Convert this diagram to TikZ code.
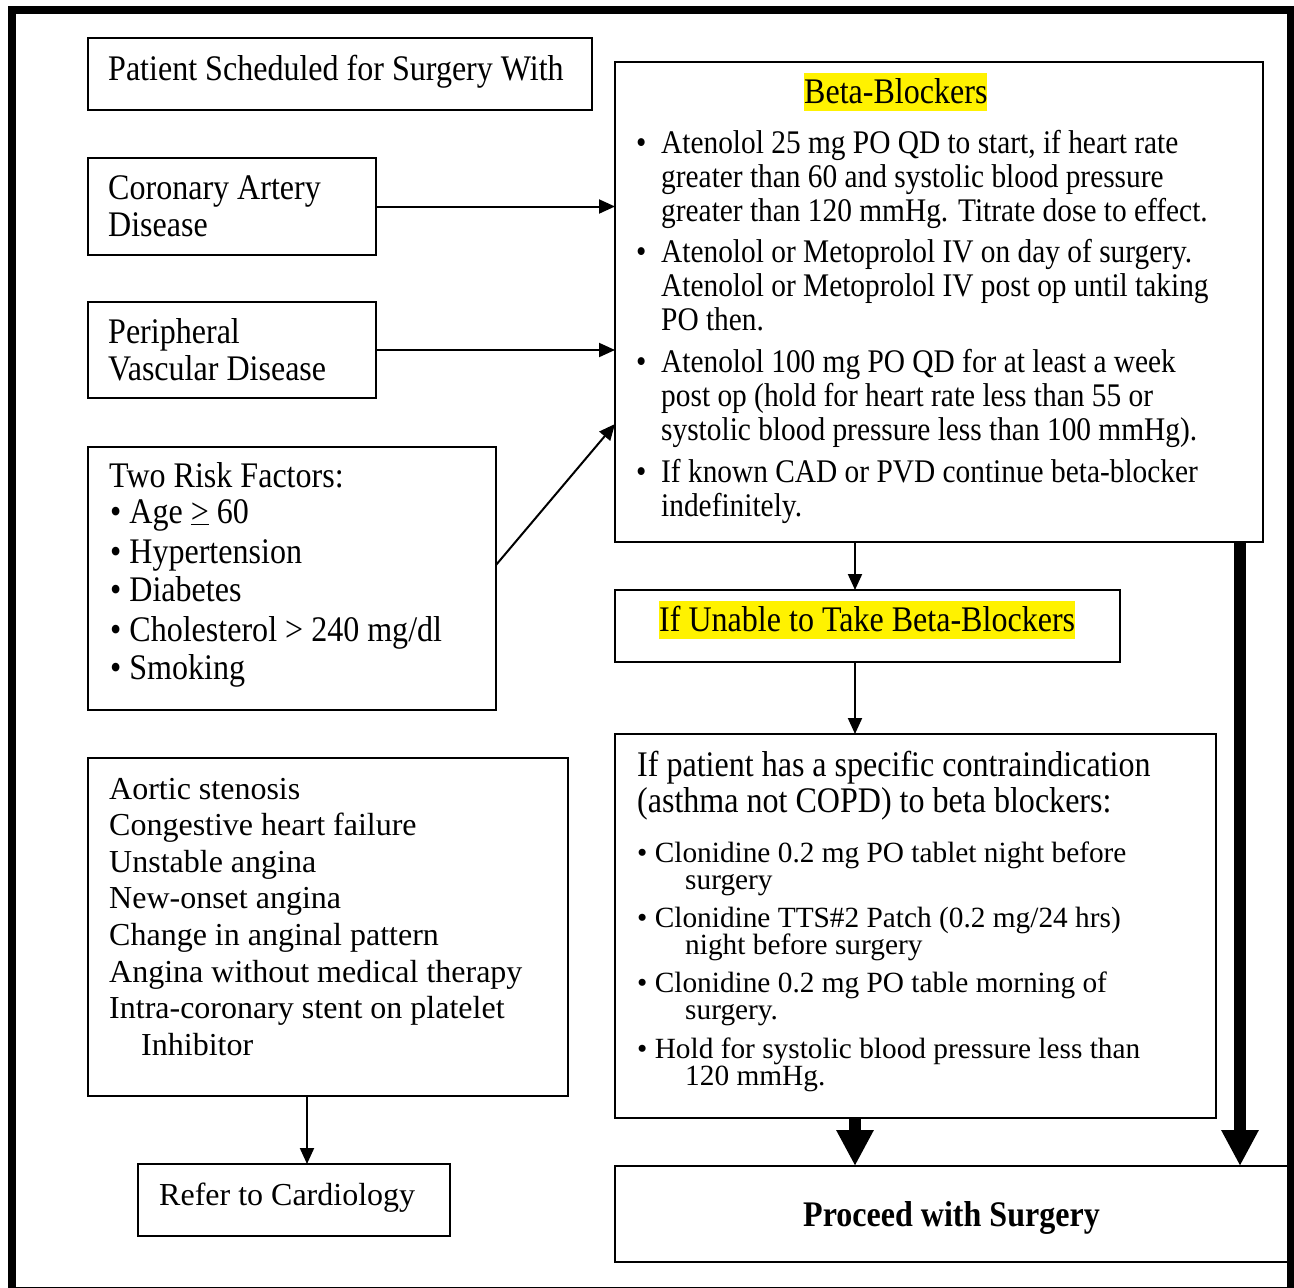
\documentclass[tikz,border=0pt]{standalone}
\usepackage{fontspec}
\setmainfont{Liberation Serif}
\newfontfamily\cond[FakeStretch=0.89]{Liberation Serif}
\usetikzlibrary{arrows.meta,calc}
\begin{document}
\begin{tikzpicture}[x=1pt,y=-1pt,
  box/.style={draw=black,line width=2pt,anchor=north west,inner sep=0pt,outer sep=0pt},
  plain/.style={anchor=base west,inner sep=0pt,font=\fontsize{32}{37}\selectfont},
  big/.style={anchor=base west,inner sep=0pt,font=\cond\fontsize{36}{37}\selectfont},
  sml/.style={anchor=base west,inner sep=0pt,font=\cond\fontsize{33}{34}\selectfont},
  tiny/.style={anchor=base west,inner sep=0pt,font=\fontsize{29.33}{28}\selectfont},
  hl/.style={big,fill=yellow,text height=30pt,text depth=7.5pt},
  arr/.style={line width=2pt,-{Triangle[length=16pt,width=14pt]}},
  fat/.style={line width=12pt,-{Triangle[length=36pt,width=35pt]}}]
\useasboundingbox (0,0) rectangle (1294,1288);
\draw[line width=8pt] (11.5,10) rectangle (1291,1291);

% boxes
\node[box,minimum width=504pt,minimum height=72pt] (pat) at (88,38) {};
\node[box,minimum width=288pt,minimum height=97pt] (cad) at (88,158) {};
\node[box,minimum width=288pt,minimum height=96pt] (pvd) at (88,302) {};
\node[box,minimum width=408pt,minimum height=263pt] (risk) at (88,447) {};
\node[box,minimum width=480pt,minimum height=338pt] (aort) at (88,758) {};
\node[box,minimum width=312pt,minimum height=72pt] (refer) at (138,1164) {};
\node[box,minimum width=648pt,minimum height=480pt] (bb) at (615,62) {};
\node[box,minimum width=505pt,minimum height=72pt] (unable) at (615,590) {};
\node[box,minimum width=601pt,minimum height=384pt] (clon) at (615,734) {};
\node[box,minimum width=673pt,minimum height=96pt] (proc) at (615,1166) {};
\node[inner sep=0pt,font=\cond\fontsize{36}{37}\selectfont\bfseries] (tproc) at ([yshift=-4pt]proc.center) {Proceed with Surgery};

% texts left column
\node[big] (tpat) at (108,80) {Patient Scheduled for Surgery With};
\node[big] (tcad1) at (108,199) {Coronary Artery};
\node[big] (tcad2) at (108,236) {Disease};
\node[big] (tpvd1) at (108,343) {Peripheral};
\node[big] (tpvd2) at (108,380) {Vascular Disease};
\node[big] (tr0) at (109,487) {Two Risk Factors:};
\node[big] (tr1) at (110,523) {\textbullet{} Age \underline{>} 60};
\node[big] (tr2) at (110,563) {\textbullet{} Hypertension};
\node[big] (tr3) at (110,601) {\textbullet{} Diabetes};
\node[big] (tr4) at (110,641) {\textbullet{} Cholesterol > 240 mg/dl};
\node[big] (tr5) at (110,679) {\textbullet{} Smoking};
\node[plain] (ta1) at (109,799) {Aortic stenosis};
\node[plain] (ta2) at (109,835) {Congestive heart failure};
\node[plain] (ta3) at (109,872) {Unstable angina};
\node[plain] (ta4) at (109,908) {New-onset angina};
\node[plain] (ta5) at (109,945) {Change in anginal pattern};
\node[plain] (ta6) at (109,982) {Angina without medical therapy};
\node[plain] (ta7) at (109,1018) {Intra-coronary stent on platelet};
\node[plain] (ta8) at (141,1055) {Inhibitor};
\node[plain] (tref) at (159,1205) {Refer to Cardiology};

% beta-blockers
\node[hl] (tbb) at (804,103) {Beta-Blockers};
\node[sml] (bu1) at (636,153) {\textbullet};
\node[sml] (b11) at (661,153) {Atenolol 25 mg PO QD to start, if heart rate};
\node[sml] (b12) at (661,187) {greater than 60 and systolic blood pressure};
\node[sml] (b13) at (661,221) {greater than 120 mmHg. Titrate dose to effect.};
\node[sml] (bu2) at (636,262) {\textbullet};
\node[sml] (b21) at (661,262) {Atenolol or Metoprolol IV on day of surgery.};
\node[sml] (b22) at (661,296) {Atenolol or Metoprolol IV post op until taking};
\node[sml] (b23) at (661,330) {PO then.};
\node[sml] (bu3) at (636,372) {\textbullet};
\node[sml] (b31) at (661,372) {Atenolol 100 mg PO QD for at least a week};
\node[sml] (b32) at (661,406) {post op (hold for heart rate less than 55 or};
\node[sml] (b33) at (661,440) {systolic blood pressure less than 100 mmHg).};
\node[sml] (bu4) at (636,482) {\textbullet};
\node[sml] (b41) at (661,482) {If known CAD or PVD continue beta-blocker};
\node[sml] (b42) at (661,516) {indefinitely.};

% unable
\node[hl] (tun) at (659,631) {If Unable to Take Beta-Blockers};

% clonidine
\node[big] (tc1) at (637,776) {If patient has a specific contraindication};
\node[big] (tc2) at (637,812) {(asthma not COPD) to beta blockers:};
\node[tiny] (c11) at (637,862) {\textbullet{} Clonidine 0.2 mg PO tablet night before};
\node[tiny] (c12) at (685,889) {surgery};
\node[tiny] (c21) at (637,927) {\textbullet{} Clonidine TTS\#2 Patch (0.2 mg/24 hrs)};
\node[tiny] (c22) at (685,954) {night before surgery};
\node[tiny] (c31) at (637,992) {\textbullet{} Clonidine 0.2 mg PO table morning of};
\node[tiny] (c32) at (685,1019) {surgery.};
\node[tiny] (c41) at (637,1058) {\textbullet{} Hold for systolic blood pressure less than};
\node[tiny] (c42) at (685,1085) {120 mmHg.};

% connectors
\coordinate (xa) at (855,0);
\coordinate (xb) at (1240,0);
\coordinate (xc) at (307,0);
\draw[arr] (cad.east) -- (cad.east -| bb.west);
\draw[arr] (pvd.east) -- (pvd.east -| bb.west);
\draw[arr] ([yshift=13.5pt]risk.east) -- ([yshift=-122pt]bb.west);
\draw[arr] (bb.south -| xa) -- (unable.north -| xa);
\draw[arr] (unable.south -| xa) -- (clon.north -| xa);
\draw[arr] (aort.south -| xc) -- (refer.north -| xc);
\draw[fat] (clon.south -| xa) -- (proc.north -| xa);
\draw[fat] (bb.south -| xb) -- (proc.north -| xb);
\end{tikzpicture}
\end{document}
